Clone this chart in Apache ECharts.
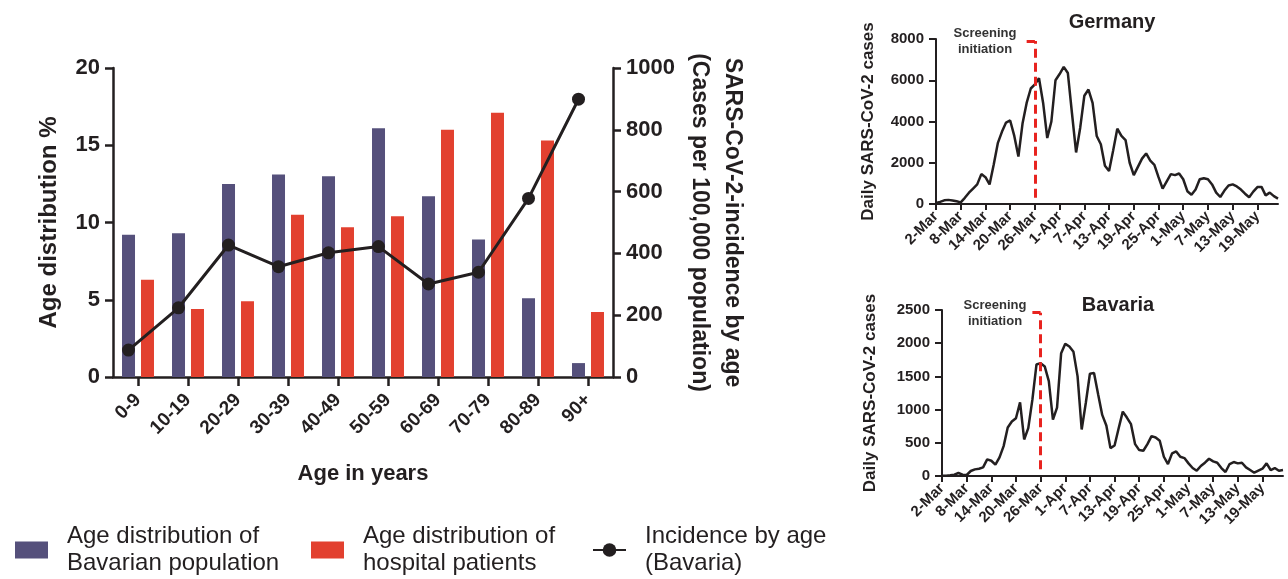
<!DOCTYPE html>
<html>
<head>
<meta charset="utf-8">
<script src="https://cdn.jsdelivr.net/npm/echarts@6/dist/echarts.min.js"></script>
<style>
  html,body{margin:0;padding:0;background:#fff;}
  #main{width:1288px;height:579px;}
</style>
</head>
<body>
<div id="main"></div>
<script>
// left panel: age groups
var ageGroups = ['0-9','10-19','20-29','30-39','40-49','50-59','60-69','70-79','80-89','90+'];
var bavarianPopulation = [9.2, 9.3, 12.5, 13.1, 13.0, 16.1, 11.7, 8.9, 5.1, 0.9];
var hospitalPatients = [6.3, 4.4, 4.9, 10.5, 9.7, 10.4, 16.0, 17.1, 15.3, 4.2];
var incidenceByAge = [87, 224, 427, 357, 402, 422, 301, 339, 578, 899];

// right panels: daily cases 2-Mar .. 24-May
var dayLabels = [];
(function(){
  var months = ['Mar','Apr','May'];
  var lens = [31,30,31];
  var m = 0, d = 2;
  for (var i = 0; i < 84; i++) {
    dayLabels.push(d + '-' + months[m]);
    d++;
    if (d > lens[m]) { d = 1; m++; }
  }
})();
var germanyCases = [50,100,180,200,170,130,80,300,550,750,
  950,1450,1300,950,1900,2950,3500,3950,4050,3300,
  2300,3900,4900,5600,5800,6100,4900,3200,4000,6000,
  6300,6650,6350,4400,2500,3700,5250,5550,4900,3300,
  2900,1850,1600,2600,3650,3300,3100,2000,1400,1800,
  2200,2450,2100,1900,1300,750,1100,1450,1400,1480,
  1200,620,450,700,1200,1250,1200,950,550,340,
  650,900,950,850,700,500,330,600,820,830,
  420,550,380,260];
var bavariaCases = [5,5,10,20,45,20,15,75,100,110,
  130,250,230,170,280,450,730,820,870,1110,
  550,720,1150,1680,1700,1650,1430,850,1030,1850,
  1990,1950,1870,1500,700,1100,1540,1550,1230,920,
  760,420,460,720,970,880,780,480,390,380,
  480,600,580,530,290,180,340,370,290,270,
  190,120,80,150,200,260,220,200,120,60,
  180,210,190,200,130,90,50,80,110,190,
  90,120,80,90];
var screeningDate = '26-Mar';
var screeningHook = '24-Mar';

var ink = '#231f20';
var blue = '#55507b';
var red = '#e2402f';
var font = 'Liberation Sans';

var chart = echarts.init(document.getElementById('main'));

function plain(v){ return String(v); } // no thousands separator
function axisLine(w){ return { show:true, lineStyle:{ color:ink, width:w } }; }
function boldText(size){ return { color:ink, fontFamily:font, fontWeight:'bold', fontSize:size }; }

function dayXAxis(gridIndex){
  return {
    type:'category', gridIndex:gridIndex, data:dayLabels, boundaryGap:false,
    axisLine:axisLine(2),
    axisTick:{ show:true, interval:5, length:6, lineStyle:{ color:ink, width:2 } },
    axisLabel:Object.assign(boldText(15), { interval:5, rotate:45, margin:10 })
  };
}
function casesYAxis(gridIndex, max, step, gap){
  return {
    type:'value', gridIndex:gridIndex, min:0, max:max, interval:step,
    splitLine:{ show:false },
    axisLine:axisLine(2),
    axisTick:{ show:true, length:7, lineStyle:{ color:ink, width:2 } },
    axisLabel:Object.assign(boldText(15), { margin:12, formatter:plain }),
    name:'Daily SARS-CoV-2 cases', nameLocation:'middle', nameGap:gap, nameRotate:90,
    nameTextStyle:boldText(17)
  };
}
function screeningLine(top, bottom){
  return {
    silent:true, symbol:['none','none'],
    label:{ show:false },
    lineStyle:{ color:'#e8231f', width:3, type:[9,5] },
    data:[
      [{ coord:[screeningDate, bottom] }, { coord:[screeningDate, top] }],
      [{ coord:[screeningHook, top] }, { coord:[screeningDate, top] }]
    ]
  };
}
function screeningText(x, y){
  return { type:'text', x:x, y:y,
    style:{ text:'Screening\ninitiation', fill:'#333', font:'bold 13px "Liberation Sans"', align:'center', lineHeight:16 } };
}

var legendText = { color:ink, fontFamily:font, fontSize:24, lineHeight:27, padding:[0,0,0,14] };

var option = {
  animation:false,
  title:[
    { text:'Germany', left:1107, top:7, textAlign:'center', textStyle:boldText(20) },
    { text:'Bavaria', left:1113, top:290, textAlign:'center', textStyle:boldText(20) }
  ],
  graphic:[ screeningText(985, 25), screeningText(995, 297) ],
  legend:[
    { left:10, top:518, icon:'rect', data:['Age distribution of\nBavarian population'] },
    { left:306, top:518, icon:'rect', data:['Age distribution of\nhospital patients'] },
    { left:587, top:518, data:['Incidence by age\n(Bavaria)'] }
  ].map(function(l){
    return Object.assign(l, {
      itemWidth:33, itemHeight:17, selectedMode:false, textStyle:legendText
    });
  }),
  grid:[
    { left:113, top:68, width:500, height:309 },
    { left:103.5, top:68, width:500, height:309 },
    { left:936, top:39, width:342, height:165 },
    { left:942, top:310, width:341, height:166 }
  ],
  xAxis:[
    {
      type:'category', gridIndex:0, data:ageGroups,
      axisLine:axisLine(2.5),
      axisTick:{ show:true, alignWithLabel:true, length:9, lineStyle:{ color:ink, width:2.5 } },
      axisLabel:Object.assign(boldText(19), { rotate:45, margin:20 }),
      name:'Age in years', nameLocation:'middle', nameGap:86, nameTextStyle:boldText(22)
    },
    { type:'category', gridIndex:1, data:ageGroups, show:false },
    dayXAxis(2),
    dayXAxis(3)
  ],
  yAxis:[
    {
      type:'value', gridIndex:0, min:0, max:20, interval:5, position:'left',
      splitLine:{ show:false },
      axisLine:axisLine(2.5),
      axisTick:{ show:true, length:8, lineStyle:{ color:ink, width:2.5 } },
      axisLabel:Object.assign(boldText(22), { margin:13 }),
      name:'Age distribution %', nameLocation:'middle', nameGap:52, nameRotate:90,
      nameTextStyle:boldText(24)
    },
    {
      type:'value', gridIndex:0, min:0, max:1000, interval:200, position:'right',
      splitLine:{ show:false },
      axisLine:axisLine(2.5),
      axisTick:{ show:true, length:8, lineStyle:{ color:ink, width:2.5 } },
      axisLabel:Object.assign(boldText(22), { margin:13, formatter:plain }),
      name:'SARS-CoV-2-incidence by age\n(Cases per 100,000 population)',
      nameLocation:'middle', nameGap:70, nameRotate:-90,
      nameTextStyle:Object.assign(boldText(23), { lineHeight:33 })
    },
    { type:'value', gridIndex:1, min:0, max:1000, show:false },
    casesYAxis(2, 8000, 2000, 59),
    casesYAxis(3, 2500, 500, 63)
  ],
  series:[
    {
      name:'Age distribution of\nBavarian population', type:'bar',
      xAxisIndex:0, yAxisIndex:0, data:bavarianPopulation,
      barWidth:13, barGap:'46%', itemStyle:{ color:blue }
    },
    {
      name:'Age distribution of\nhospital patients', type:'bar',
      xAxisIndex:0, yAxisIndex:0, data:hospitalPatients,
      barWidth:13, itemStyle:{ color:red }
    },
    {
      name:'Incidence by age\n(Bavaria)', type:'line',
      xAxisIndex:1, yAxisIndex:2, data:incidenceByAge,
      symbol:'circle', symbolSize:13,
      lineStyle:{ color:ink, width:3 }, itemStyle:{ color:ink }
    },
    {
      name:'Germany', type:'line', xAxisIndex:2, yAxisIndex:3, data:germanyCases,
      showSymbol:false, lineStyle:{ color:ink, width:2.5 },
      markLine:screeningLine(7900, 300)
    },
    {
      name:'Bavaria', type:'line', xAxisIndex:3, yAxisIndex:4, data:bavariaCases,
      showSymbol:false, lineStyle:{ color:ink, width:2.5 },
      markLine:screeningLine(2460, 100)
    }
  ]
};
chart.setOption(option);
</script>
</body>
</html>
